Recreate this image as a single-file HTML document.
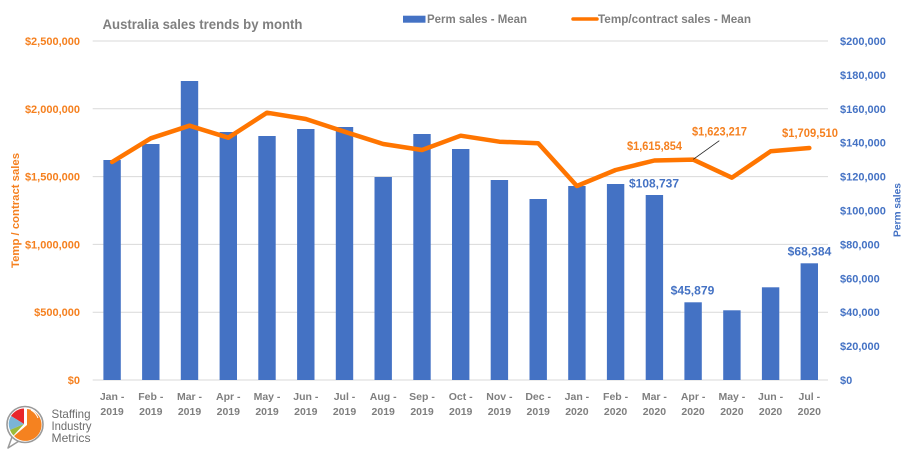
<!DOCTYPE html>
<html><head><meta charset="utf-8"><style>
html,body{margin:0;padding:0;background:#fff;}
svg{display:block;font-family:"Liberation Sans",sans-serif;}
</style></head><body>
<svg width="909" height="453" viewBox="0 0 909 453" xmlns="http://www.w3.org/2000/svg">
<rect width="909" height="453" fill="#fff"/>
<!-- title -->
<text x="102.5" y="29" font-size="14" font-weight="bold" fill="#7f7f7f" textLength="200" lengthAdjust="spacingAndGlyphs">Australia sales trends by month</text>
<!-- legend -->
<rect x="403" y="15.7" width="22.5" height="7" fill="#4472C4"/>
<text x="427" y="23" font-size="12" font-weight="bold" fill="#7f7f7f" textLength="100" lengthAdjust="spacingAndGlyphs">Perm sales - Mean</text>
<line x1="573" y1="19" x2="597" y2="19" stroke="#FF7500" stroke-width="3.5" stroke-linecap="round"/>
<text x="598" y="23" font-size="12" font-weight="bold" fill="#7f7f7f" textLength="153" lengthAdjust="spacingAndGlyphs">Temp/contract sales - Mean</text>
<!-- gridlines -->
<g stroke="#d9d9d9" stroke-width="1">
<line x1="92.7" y1="41" x2="828" y2="41"/>
<line x1="92.7" y1="108.8" x2="828" y2="108.8"/>
<line x1="92.7" y1="176.6" x2="828" y2="176.6"/>
<line x1="92.7" y1="244.4" x2="828" y2="244.4"/>
<line x1="92.7" y1="312.2" x2="828" y2="312.2"/>
<line x1="92.7" y1="380" x2="828" y2="380"/>
</g>
<!-- left axis labels -->
<g font-size="11" font-weight="bold" fill="#F5801F" text-anchor="end">
<text x="80" y="45">$2,500,000</text>
<text x="80" y="112.8">$2,000,000</text>
<text x="80" y="180.6">$1,500,000</text>
<text x="80" y="248.4">$1,000,000</text>
<text x="80" y="316.2">$500,000</text>
<text x="80" y="384">$0</text>
</g>
<!-- right axis labels -->
<g font-size="11" font-weight="bold" fill="#4472C4">
<text x="840" y="45">$200,000</text>
<text x="840" y="78.9">$180,000</text>
<text x="840" y="112.8">$160,000</text>
<text x="840" y="146.7">$140,000</text>
<text x="840" y="180.6">$120,000</text>
<text x="840" y="214.5">$100,000</text>
<text x="840" y="248.4">$80,000</text>
<text x="840" y="282.3">$60,000</text>
<text x="840" y="316.2">$40,000</text>
<text x="840" y="350.1">$20,000</text>
<text x="840" y="384">$0</text>
</g>
<!-- axis titles -->
<text transform="translate(19,210.5) rotate(-90)" text-anchor="middle" font-size="11" font-weight="bold" fill="#F5801F" textLength="115" lengthAdjust="spacingAndGlyphs">Temp / contract sales</text>
<text transform="translate(900.5,210) rotate(-90)" text-anchor="middle" font-size="10" font-weight="bold" fill="#4472C4" textLength="54" lengthAdjust="spacingAndGlyphs">Perm sales</text>
<!-- bars -->
<g fill="#4472C4">
<rect x="103.4" y="160" width="17.4" height="220"/>
<rect x="142.1" y="144" width="17.4" height="236"/>
<rect x="180.8" y="81" width="17.4" height="299"/>
<rect x="219.6" y="132" width="17.4" height="248"/>
<rect x="258.3" y="136" width="17.4" height="244"/>
<rect x="297.1" y="129" width="17.4" height="251"/>
<rect x="335.8" y="127" width="17.4" height="253"/>
<rect x="374.5" y="177" width="17.4" height="203"/>
<rect x="413.3" y="134" width="17.4" height="246"/>
<rect x="452.0" y="149" width="17.4" height="231"/>
<rect x="490.7" y="180" width="17.4" height="200"/>
<rect x="529.5" y="199" width="17.4" height="181"/>
<rect x="568.2" y="186" width="17.4" height="194"/>
<rect x="606.9" y="184" width="17.4" height="196"/>
<rect x="645.7" y="195" width="17.4" height="185"/>
<rect x="684.4" y="302.3" width="17.4" height="77.7"/>
<rect x="723.2" y="310.3" width="17.4" height="69.7"/>
<rect x="761.9" y="287.3" width="17.4" height="92.7"/>
<rect x="800.6" y="263.3" width="17.4" height="116.7"/>
</g>
<!-- line -->
<polyline fill="none" stroke="#FF7500" stroke-width="4.5" stroke-linejoin="round" stroke-linecap="round"
points="112.1,162 150.8,138.3 189.5,125.7 228.3,137.7 267,112.7 305.8,119 344.5,131.7 383.2,144 422,150 460.7,135.7 499.4,141.7 538.2,143.3 576.9,186 615.6,170 654.4,160.5 693.1,159.6 731.9,177.7 770.6,151.3 809.3,148"/>
<!-- leader line -->
<line x1="693.3" y1="159.3" x2="719.3" y2="140.7" stroke="#222" stroke-width="0.8"/>
<!-- data labels -->
<g font-size="11.5" font-weight="bold" fill="#F5801F" text-anchor="middle">
<text x="654.5" y="150" textLength="55" lengthAdjust="spacingAndGlyphs">$1,615,854</text>
<text x="719.5" y="135.7" textLength="55" lengthAdjust="spacingAndGlyphs">$1,623,217</text>
<text x="810" y="137" textLength="56" lengthAdjust="spacingAndGlyphs">$1,709,510</text>
</g>
<g font-size="12" font-weight="bold" fill="#4472C4" text-anchor="middle">
<text x="654" y="187.5" textLength="50" lengthAdjust="spacingAndGlyphs">$108,737</text>
<text x="692.5" y="294.5" textLength="43.6" lengthAdjust="spacingAndGlyphs">$45,879</text>
<text x="809.5" y="255.5" textLength="43.6" lengthAdjust="spacingAndGlyphs">$68,384</text>
</g>
<!-- x labels -->
<g font-size="10.5" font-weight="bold" fill="#7f7f7f" text-anchor="middle">
<text x="112.1" y="400">Jan -</text><text x="112.1" y="415">2019</text>
<text x="150.8" y="400">Feb -</text><text x="150.8" y="415">2019</text>
<text x="189.5" y="400">Mar -</text><text x="189.5" y="415">2019</text>
<text x="228.3" y="400">Apr -</text><text x="228.3" y="415">2019</text>
<text x="267" y="400">May -</text><text x="267" y="415">2019</text>
<text x="305.8" y="400">Jun -</text><text x="305.8" y="415">2019</text>
<text x="344.5" y="400">Jul -</text><text x="344.5" y="415">2019</text>
<text x="383.2" y="400">Aug -</text><text x="383.2" y="415">2019</text>
<text x="422" y="400">Sep -</text><text x="422" y="415">2019</text>
<text x="460.7" y="400">Oct -</text><text x="460.7" y="415">2019</text>
<text x="499.4" y="400">Nov -</text><text x="499.4" y="415">2019</text>
<text x="538.2" y="400">Dec -</text><text x="538.2" y="415">2019</text>
<text x="576.9" y="400">Jan -</text><text x="576.9" y="415">2020</text>
<text x="615.6" y="400">Feb -</text><text x="615.6" y="415">2020</text>
<text x="654.4" y="400">Mar -</text><text x="654.4" y="415">2020</text>
<text x="693.1" y="400">Apr -</text><text x="693.1" y="415">2020</text>
<text x="731.9" y="400">May -</text><text x="731.9" y="415">2020</text>
<text x="770.6" y="400">Jun -</text><text x="770.6" y="415">2020</text>
<text x="809.3" y="400">Jul -</text><text x="809.3" y="415">2020</text>
</g>
<!-- logo -->
<g>
<path d="M12,437 L8,448 L19,441 Z" fill="#fff" stroke="#9a9a9a" stroke-width="1.5" stroke-linejoin="round"/>
<circle cx="25" cy="424.5" r="18" fill="#fff" stroke="#9a9a9a" stroke-width="1.6"/>
<!-- orange slice -->
<path d="M27,425 L27,409 A16,16 0 1 1 14,436 Z" fill="#F58220"/>
<!-- red -->
<path d="M24,424 L24,408.5 A15.5,15.5 0 0 0 11,416 Z" fill="#E8262A"/>
<!-- light blue -->
<path d="M24,424 L11,416 A15.5,15.5 0 0 0 10,430 Z" fill="#7BB4D6"/>
<!-- green -->
<path d="M24,424 L10,430 A15.5,15.5 0 0 0 13.5,435.5 Z" fill="#9BBB3A"/>
<path d="M31,410 A15,15 0 0 1 38,418" fill="none" stroke="#fff" stroke-width="1"/>
</g>
<g font-size="12" fill="#6d6d6d">
<text x="51.5" y="418" textLength="39" lengthAdjust="spacingAndGlyphs">Staffing</text>
<text x="51.5" y="430" textLength="40" lengthAdjust="spacingAndGlyphs">Industry</text>
<text x="51.5" y="442" textLength="39" lengthAdjust="spacingAndGlyphs">Metrics</text>
</g>
</svg>
</body></html>
